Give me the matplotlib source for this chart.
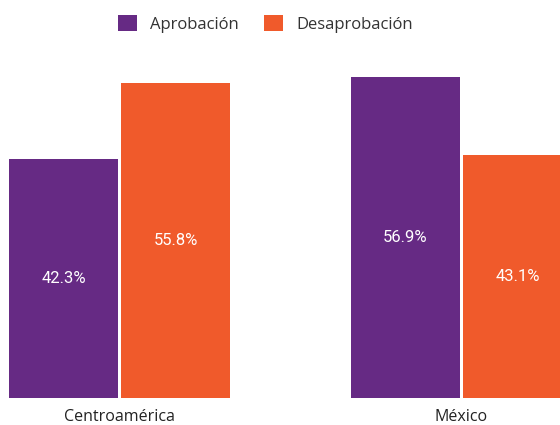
import matplotlib
matplotlib.use("Agg")
import matplotlib.pyplot as plt
import numpy as np

# data
categories = ["Centroamérica", "México"]
series_names = ["Aprobación", "Desaprobación"]
aprobacion = [42.3, 56.9]
desaprobacion = [55.8, 43.1]
colors = ["#662a84", "#f05a2b"]

W, H = 560, 425
fig = plt.figure(figsize=(W / 100, H / 100), dpi=100)
# axes: baseline at y=398px, top at 60px
ax = fig.add_axes([0, 1 - 398 / H, 1, (398 - 60) / H])

bar_w = 109 / 342
gap = 3 / 342
x = np.arange(len(categories))
series = [aprobacion, desaprobacion]
offsets = [-(bar_w + gap) / 2, (bar_w + gap) / 2]

for vals, off, col, name in zip(series, offsets, colors, series_names):
    bars = ax.bar(x + off, vals, width=bar_w, color=col, label=name)
    for b, v in zip(bars, vals):
        ax.text(b.get_x() + b.get_width() / 2, v / 2, f"{v}%",
                ha="center", va="center", color="white",
                fontsize=12, family="Roboto")

ax.set_xlim(-119.5 / 342, (W - 119.5) / 342)
ax.set_ylim(0, (398 - 60) / 5.64)
ax.axis("off")

for i, c in enumerate(categories):
    ax.text(i, -3.4, c, ha="center", va="center", fontsize=11.5,
            family="Open Sans", color="#222222")

leg = fig.legend(loc="upper center", bbox_to_anchor=(0.474, 0.993), ncol=2,
                 frameon=False, prop={"family": "Open Sans", "size": 12},
                 handlelength=1.14, handleheight=1.14, columnspacing=1.5,
                 handletextpad=0.78, borderaxespad=0.3)
for t in leg.get_texts():
    t.set_color("#333333")

fig.savefig("out.png", dpi=100)
